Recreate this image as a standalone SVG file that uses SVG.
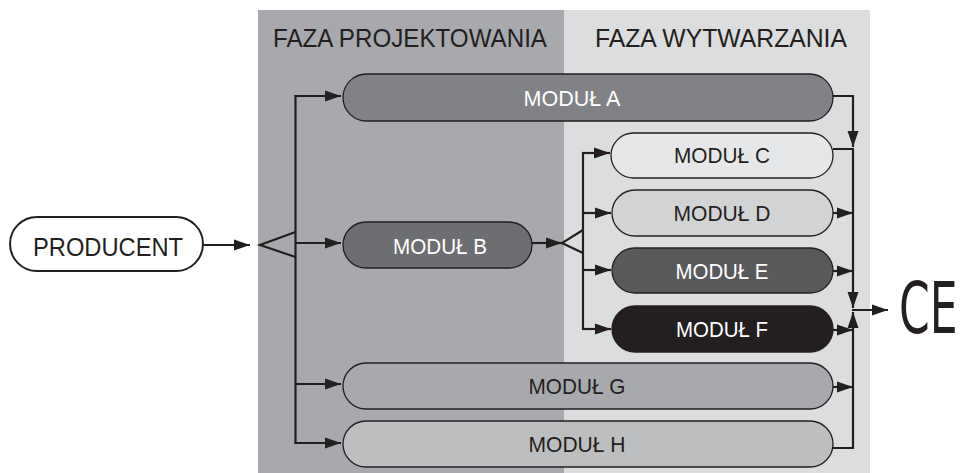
<svg xmlns="http://www.w3.org/2000/svg" width="963" height="473" viewBox="0 0 963 473">
<style>
.lbl{font-family:"Liberation Sans",Arial,sans-serif;font-size:22px;text-anchor:middle}
.hdr{font-family:"Liberation Sans",Arial,sans-serif;font-size:25px;fill:#231f20}
.pill{stroke:#231f20;stroke-width:1.3}
.dk{fill:#231f20}
.wt{fill:#ffffff}
.con{fill:none;stroke:#231f20;stroke-width:2.2}
</style>
<defs>
<marker id="ah" markerUnits="userSpaceOnUse" markerWidth="17" markerHeight="12" refX="16" refY="6" orient="auto">
<path d="M0,0.5 L16,6 L0,11.5 z" fill="#231f20"/>
</marker>
</defs>
<g id="background">
<rect x="258" y="10" width="306" height="463" fill="#a7a9ac"/>
<rect x="564" y="10" width="306" height="463" fill="#dcdddf"/>
<text class="hdr" x="273" y="47" textLength="274" lengthAdjust="spacingAndGlyphs">FAZA PROJEKTOWANIA</text>
<text class="hdr" x="595" y="47" textLength="252" lengthAdjust="spacingAndGlyphs">FAZA WYTWARZANIA</text>
</g>
<g id="connectors">
<line class="con" x1="203" y1="245" x2="250" y2="245" marker-end="url(#ah)"/>
<polyline class="con" points="295.5,232 260,245 295.5,257"/>
<line class="con" x1="295.5" y1="95" x2="295.5" y2="444"/>
<line class="con" x1="294.5" y1="96" x2="341" y2="96" marker-end="url(#ah)"/>
<line class="con" x1="295.5" y1="243" x2="341" y2="243" marker-end="url(#ah)"/>
<line class="con" x1="295.5" y1="384" x2="341" y2="384" marker-end="url(#ah)"/>
<line class="con" x1="294.5" y1="443" x2="341" y2="443" marker-end="url(#ah)"/>
<line class="con" x1="532" y1="243" x2="562" y2="243" marker-end="url(#ah)"/>
<polyline class="con" points="583,230 562,243 583,253"/>
<line class="con" x1="583" y1="152" x2="583" y2="330"/>
<line class="con" x1="582" y1="153" x2="610" y2="153" marker-end="url(#ah)"/>
<line class="con" x1="583" y1="213" x2="611" y2="213" marker-end="url(#ah)"/>
<line class="con" x1="583" y1="270" x2="611" y2="270" marker-end="url(#ah)"/>
<line class="con" x1="582" y1="329" x2="611" y2="329" marker-end="url(#ah)"/>
<polyline class="con" points="833,149 853,149 853,308" marker-end="url(#ah)"/>
<polyline class="con" points="833,448 853,448 853,312" marker-end="url(#ah)"/>
<polyline class="con" points="833,96 853,96 853,147" marker-end="url(#ah)"/>
<line class="con" x1="833" y1="213" x2="853" y2="213" marker-end="url(#ah)"/>
<line class="con" x1="833" y1="271" x2="853" y2="271" marker-end="url(#ah)"/>
<line class="con" x1="833" y1="330" x2="853" y2="330" marker-end="url(#ah)"/>
<line class="con" x1="833" y1="387" x2="853" y2="387" marker-end="url(#ah)"/>
<line class="con" x1="852" y1="310" x2="888" y2="310" marker-end="url(#ah)"/>
</g>
<g id="producent">
<rect x="10" y="217" width="193" height="54" rx="27" fill="#ffffff" stroke="#231f20" stroke-width="2"/>
<text class="lbl dk" x="108" y="256" textLength="150" lengthAdjust="spacingAndGlyphs" style="font-size:26px">PRODUCENT</text>
</g>
<g id="modul-a">
<rect class="pill" x="343" y="74" width="490" height="47" rx="23.5" fill="#808285"/>
<text class="lbl wt" x="572" y="106" textLength="97" lengthAdjust="spacingAndGlyphs">MODUŁ A</text>
</g>
<g id="modul-b">
<rect class="pill" x="343" y="222" width="189" height="46" rx="23" fill="#6d6e71"/>
<text class="lbl wt" x="440" y="254" textLength="94" lengthAdjust="spacingAndGlyphs">MODUŁ B</text>
</g>
<g id="modul-c">
<rect class="pill" x="611" y="133" width="222" height="45" rx="22.5" fill="#e6e7e8"/>
<text class="lbl dk" x="722" y="163" textLength="96" lengthAdjust="spacingAndGlyphs">MODUŁ C</text>
</g>
<g id="modul-d">
<rect class="pill" x="612" y="190" width="221" height="46" rx="23" fill="#d1d3d4"/>
<text class="lbl dk" x="722" y="221" textLength="97" lengthAdjust="spacingAndGlyphs">MODUŁ D</text>
</g>
<g id="modul-e">
<rect class="pill" x="612" y="248" width="221" height="45" rx="22.5" fill="#58595b"/>
<text class="lbl wt" x="722" y="279" textLength="93" lengthAdjust="spacingAndGlyphs">MODUŁ E</text>
</g>
<g id="modul-f">
<rect class="pill" x="612" y="306" width="221" height="46" rx="23" fill="#231f20"/>
<text class="lbl wt" x="722" y="337" textLength="92" lengthAdjust="spacingAndGlyphs">MODUŁ F</text>
</g>
<g id="modul-g">
<rect class="pill" x="343" y="363" width="490" height="46" rx="23" fill="#a7a9ac"/>
<text class="lbl dk" x="577" y="394" textLength="97" lengthAdjust="spacingAndGlyphs">MODUŁ G</text>
</g>
<g id="modul-h">
<rect class="pill" x="343" y="421" width="490" height="46" rx="23" fill="#bcbec0"/>
<text class="lbl dk" x="577" y="452" textLength="97" lengthAdjust="spacingAndGlyphs">MODUŁ H</text>
</g>
<g id="ce">
<text transform="translate(899,333) scale(1,1.6)" x="0" y="0" style="font-family:'DejaVu Sans',sans-serif;font-size:44px;fill:#231f20">CE</text>
</g>
</svg>
